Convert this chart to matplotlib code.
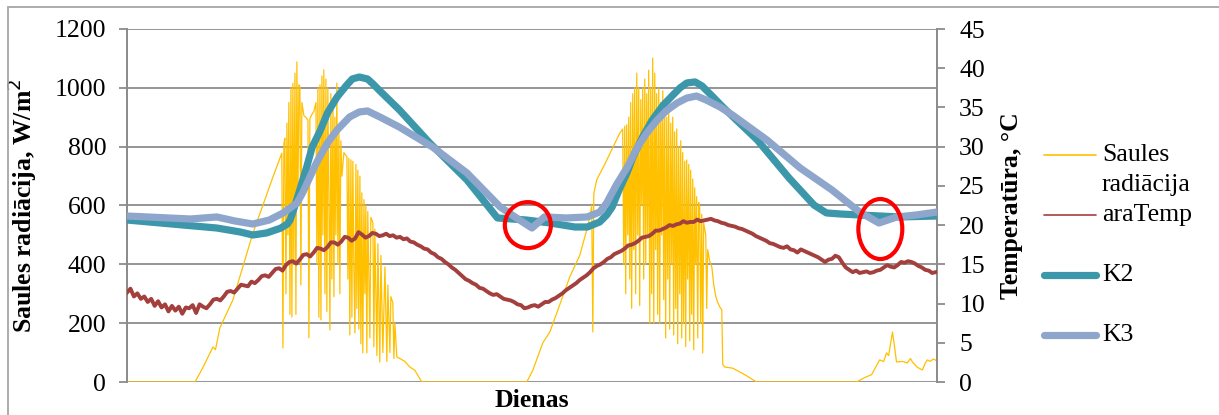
import numpy as np
import matplotlib
matplotlib.use("Agg")
import matplotlib.pyplot as plt
from matplotlib.patches import Ellipse, Rectangle
from matplotlib.lines import Line2D

plt.rcParams['font.family'] = ['Liberation Serif', 'DejaVu Serif']

# Saules radiācija, W/m2 (x in hours)
rad_h = [0, 4.92, 5.5, 6.22, 6.4, 6.72, 7.66, 9.11, 10.56, 11.2, 11.28, 11.35, 11.42, 11.5, 11.57,
         11.64, 11.71, 11.79, 11.86, 11.93, 12.0, 12.07, 12.15, 12.22, 12.29, 12.36, 12.44, 12.51,
         12.58, 12.65, 12.8, 12.94, 13.09, 13.16, 13.23, 13.38, 13.52, 13.67, 13.74, 13.81, 13.88,
         13.96, 14.03, 14.1, 14.17, 14.24, 14.32, 14.39, 14.46, 14.53, 14.61, 14.68, 14.75, 14.82,
         14.9, 14.97, 15.04, 15.11, 15.18, 15.26, 15.33, 15.4, 15.47, 15.55, 15.69, 15.84, 15.91,
         15.98, 16.05, 16.12, 16.2, 16.27, 16.34, 16.41, 16.49, 16.56, 16.63, 16.7, 16.77, 16.85,
         16.92, 16.99, 17.06, 17.14, 17.21, 17.28, 17.35, 17.42, 17.57, 17.64, 17.79, 17.86, 17.93,
         18.08, 18.15, 18.29, 18.37, 18.51, 18.66, 18.8, 18.87, 19.02, 19.09, 19.23, 19.31, 19.38,
         19.52, 19.74, 20.1, 20.46, 20.82, 21.33, 28.92,
         29.36, 30.08, 30.59, 31.09, 32.03, 32.75, 33.26, 33.48, 33.62, 33.7, 33.77, 33.98, 34.56,
         35.07, 35.65, 35.86, 35.94, 36.01, 36.08, 36.15, 36.23, 36.3, 36.37, 36.44, 36.51, 36.59,
         36.66, 36.73, 36.8, 36.88, 36.95, 37.02, 37.09, 37.17, 37.24, 37.31, 37.38, 37.46, 37.53,
         37.6, 37.67, 37.74, 37.82, 37.89, 37.96, 38.03, 38.11, 38.18, 38.25, 38.32, 38.39, 38.47,
         38.54, 38.61, 38.68, 38.76, 38.83, 38.9, 38.97, 39.05, 39.12, 39.19, 39.26, 39.34, 39.41,
         39.48, 39.55, 39.62, 39.7, 39.77, 39.84, 39.91, 39.99, 40.06, 40.13, 40.2, 40.27, 40.35,
         40.42, 40.49, 40.56, 40.64, 40.71, 40.78, 40.85, 40.93, 41.0, 41.07, 41.14, 41.21, 41.29,
         41.36, 41.43, 41.5, 41.58, 41.65, 41.72, 41.87, 41.94, 42.01, 42.16, 42.31, 42.45, 42.6,
         42.74, 42.89, 43.03, 43.1, 43.24, 43.82, 44.69, 45.55, 52.78,
         53.36, 53.87, 54.45, 54.74, 54.95, 55.1, 55.24, 55.38, 55.53, 55.67, 56.1, 56.46, 56.68,
         56.82, 57.18, 57.54, 57.76, 57.9, 58.11, 58.33, 58.6]
rad_w = [0, 0, 50, 119, 110, 184, 279, 506, 697, 778, 116, 810, 829, 300, 880,
         500, 950, 230, 1000, 221, 1016, 400, 1050, 230, 1088, 600, 1010, 1003,
         330, 950, 905, 900, 890, 150, 895, 910, 920, 950, 400, 999, 220,
         1010, 211, 1040, 500, 1061, 300, 1030, 240, 1000, 600, 177, 980, 350,
         960, 290, 900, 500, 1016, 400, 870, 300, 820, 700, 780, 770, 765,
         350, 760, 160, 755, 220, 750, 400, 167, 740, 250, 720, 180, 700,
         130, 643, 99, 620, 300, 600, 99, 580, 150, 560, 540, 120, 520,
         90, 470, 68, 430, 100, 391, 70, 330, 100, 290, 270, 80, 200,
         85, 80, 70, 51, 40, 0, 0,
         40, 133, 170, 234, 357, 430, 517, 560, 600, 170, 640, 687, 740,
         790, 846, 860, 400, 870, 300, 874, 500, 900, 350, 950, 250, 980,
         450, 1000, 300, 1050, 500, 1000, 260, 960, 600, 1000, 350, 1030, 400,
         980, 500, 1060, 200, 1000, 300, 1101, 200, 1050, 450, 980, 230, 1000,
         200, 950, 500, 990, 280, 960, 150, 900, 350, 940, 180, 880, 400,
         900, 160, 850, 250, 860, 130, 800, 300, 820, 150, 780, 200, 750,
         120, 755, 350, 740, 140, 720, 230, 690, 110, 660, 400, 630, 150,
         610, 595, 200, 570, 99, 540, 500, 250, 450, 410, 391, 330, 290,
         270, 255, 245, 60, 51, 47, 25, 0, 0,
         15, 25, 75, 70, 99, 90, 130, 170, 120, 68, 70, 65, 80,
         68, 50, 41, 65, 75, 70, 78, 72]

# araTemp, °C, every 0.25 h
ara_h = np.arange(0, 58.6, 0.25)
ara_temp = [11.4, 11.9, 10.9, 11.3, 10.6, 10.9, 10.2, 10.6, 9.7, 10.3, 9.5, 9.9, 9.0, 9.7, 9.1, 9.6,
            8.7, 9.5, 9.4, 9.8, 8.8, 9.9, 9.6, 9.4, 9.9, 10.5, 10.6, 10.4, 10.9, 11.5, 11.6, 11.4,
            11.9, 12.4, 12.3, 12.2, 12.8, 12.6, 13.0, 13.5, 13.6, 13.4, 13.9, 14.4, 14.5, 14.2,
            14.9, 15.3, 15.4, 15.1, 15.6, 16.2, 16.3, 16.0, 16.5, 17.1, 17.0, 16.8, 17.2, 17.8,
            17.8, 17.5, 17.9, 18.5, 18.4, 18.0, 18.3, 19.1, 18.8, 18.4, 18.6, 19.0, 18.9, 18.6,
            18.7, 18.9, 18.6, 18.7, 18.4, 18.5, 18.2, 18.3, 17.9, 17.8, 17.5, 17.3, 17.0, 16.9,
            16.5, 16.3, 15.9, 15.7, 15.3, 15.0, 14.6, 14.3, 13.9, 13.5, 13.1, 12.9, 12.6, 12.4,
            12.0, 11.9, 11.6, 11.3, 11.1, 11.2, 10.9, 10.6, 10.5, 10.4, 10.2, 9.9, 9.8, 9.4,
            9.5, 9.7, 9.8, 9.6, 9.9, 10.2, 10.2, 10.5, 10.7, 11.0, 11.3, 11.7, 12.0, 12.3, 12.6,
            13.0, 13.3, 13.6, 14.0, 14.5, 14.8, 15.0, 15.3, 15.7, 15.9, 16.3, 16.5, 16.7, 17.0,
            17.4, 17.5, 17.7, 18.0, 18.4, 18.5, 18.6, 18.9, 19.3, 19.3, 19.5, 19.7, 20.0, 19.9,
            20.1, 20.2, 20.5, 20.3, 20.4, 20.4, 20.7, 20.5, 20.6, 20.7, 20.8, 20.6, 20.5, 20.3,
            20.2, 20.0, 19.9, 19.8, 19.6, 19.5, 19.3, 19.1, 18.9, 18.6, 18.4, 18.2, 18.0, 17.7,
            17.6, 17.4, 17.2, 17.1, 17.3, 16.9, 16.8, 16.5, 16.9, 16.7, 16.5, 16.3, 16.1, 15.9,
            15.6, 15.3, 15.6, 15.7, 16.1, 15.9, 15.2, 14.6, 14.3, 14.0, 14.2, 13.9, 14.0, 14.1,
            13.9, 14.0, 14.2, 14.3, 14.6, 14.9, 14.7, 14.6, 14.9, 15.3, 15.2, 15.4, 15.3, 15.1,
            14.8, 14.6, 14.3, 14.2, 13.9, 14.0]

# K2, °C
k2_h = [0, 6.5, 8.2, 9.1, 10.1, 11.1, 11.6, 11.8, 12.0, 12.5, 13.0, 13.4, 14.0, 14.5, 15.2, 15.9,
        16.3, 16.8, 17.4, 17.8, 18.3, 19.7, 21.9, 24.6, 26.8, 28.9, 30.6, 32.4, 33.3, 34.2, 34.7,
        35.1, 35.6, 36.2, 36.6, 37.3, 38.0, 38.8, 39.5, 40.0, 40.5, 41.1, 41.6, 42.4, 43.1, 45.6,
        47.9, 49.7, 50.6, 51.6, 53.0, 55.9, 58.6]
k2_t = [20.65, 19.63, 19.12, 18.74, 19.0, 19.6, 20.14, 20.65, 21.67, 24.48, 27.4, 29.96, 32.13,
        34.29, 36.33, 37.86, 38.63, 38.88, 38.63, 37.99, 37.1, 34.7, 30.47, 25.75, 20.91, 20.65,
        20.27, 19.76, 19.76, 20.4, 21.29, 22.31, 24.48, 26.77, 28.68, 31.23, 33.4, 35.31, 36.59,
        37.48, 38.12, 38.25, 37.74, 36.33, 35.06, 30.85, 26.0, 22.56, 21.55, 21.42, 21.29, 21.04,
        21.16]

# K3, °C
k3_h = [0, 4.6, 6.5, 7.8, 9.1, 10.3, 11.3, 12.3, 12.7, 13.2, 13.7, 14.5, 15.2, 16.1, 16.8, 17.4,
        18.3, 19.7, 22.1, 24.6, 27.0, 28.4, 29.3, 30.2, 31.8, 33.3, 34.2, 34.7, 35.4, 36.2, 36.9,
        37.6, 38.3, 39.0, 39.8, 40.5, 41.2, 41.9, 42.9, 43.8, 46.3, 48.7, 51.0, 53.0, 54.4, 55.7,
        57.1, 58.6]
k3_t = [21.16, 20.78, 21.04, 20.53, 20.14, 20.65, 21.55, 22.82, 24.09, 26.0, 27.92, 30.47, 32.13,
        33.78, 34.42, 34.55, 33.78, 32.5, 29.96, 26.64, 22.31, 20.65, 19.63, 21.04, 20.91, 21.04,
        21.67, 22.82, 25.11, 27.41, 29.83, 31.74, 33.27, 34.55, 35.57, 36.2, 36.46, 35.95, 35.06,
        34.04, 30.85, 27.28, 24.48, 21.67, 20.27, 21.04, 21.29, 21.67]

fig = plt.figure(figsize=(12.19, 4.15), dpi=100)
ax = fig.add_axes([127 / 1219, 1 - 382 / 415, 810 / 1219, 353 / 415])
ax2 = ax.twinx()

grid_c = '#8c8c8c'
ax.plot(rad_h, rad_w, color='#ffc000', lw=0.9, zorder=3)
ax.set_xlim(0, 58.6)
ax.set_ylim(0, 1200)
ax.set_yticks(range(0, 1201, 200))
ax.set_xticks([])
ax.grid(axis='y', color=grid_c, lw=1.3)
ax.set_axisbelow(True)

ax2.plot(ara_h, ara_temp, color='#a33f3d', lw=2.8, zorder=3)
ax2.plot(k2_h, k2_t, color='#3d97ab', lw=5.2, solid_joinstyle='round', solid_capstyle='round', zorder=4)
ax2.plot(k3_h, k3_t, color='#8ea6cc', lw=5.2, solid_joinstyle='round', solid_capstyle='round', zorder=5)
ax2.set_ylim(0, 45)
ax2.set_yticks(range(0, 46, 5))

for a in (ax, ax2):
    for s in ('top', 'bottom'):
        a.spines[s].set_visible(False)
    a.spines['left'].set_color(grid_c)
    a.spines['right'].set_color(grid_c)
    a.spines['left'].set_linewidth(1.3)
    a.spines['right'].set_linewidth(1.3)
ax.tick_params(axis='y', labelsize=18.5, length=6, width=1.3, color=grid_c, pad=9)
ax2.tick_params(axis='y', labelsize=18.5, length=6, width=1.3, color=grid_c, pad=10)

ax.set_ylabel('Saules radiācija, W/m$^2$', fontsize=18.5, fontweight='bold')
ax.yaxis.set_label_coords(-0.109, 0.5)
ax2.set_ylabel('Temperatūra, °C', fontsize=18.5, fontweight='bold')
ax2.yaxis.set_label_coords(1.078, 0.5)
ax.set_xlabel('Dienas', fontsize=18.5, fontweight='bold')
ax.xaxis.set_label_coords(0.5, -0.02)

# red circles
ax2.add_patch(Ellipse((29.0, 20.0), 3.33, 5.86, fill=False, ec='#ff0000', lw=3, zorder=6, clip_on=False))
ax2.add_patch(Ellipse((54.5, 19.5), 3.18, 7.65, fill=False, ec='#ff0000', lw=3, zorder=6, clip_on=False))

# legend
W, H = 1219, 415
entries = [('#ffc000', 1.2, 155), ('#a33f3d', 1.2, 215), ('#3d97ab', 5.2, 275), ('#8ea6cc', 5.2, 335)]
for c, lw, y in entries:
    fig.add_artist(Line2D([1044 / W, 1096 / W], [1 - y / H, 1 - y / H], color=c, lw=lw,
                          solid_capstyle='round'))
for txt, y in [('Saules', 155), ('radiācija', 185), ('araTemp', 215), ('K2', 275), ('K3', 335)]:
    fig.text(1102 / W, 1 - y / H, txt, fontsize=18.5, va='center', ha='left')

# outer border
fig.add_artist(Rectangle((8 / W, -0.05), 1.0, 1 - 7 / H + 0.05, transform=fig.transFigure,
                         fill=False, ec='#a6a6a6', lw=1.3))

fig.savefig('out.png', dpi=100)
